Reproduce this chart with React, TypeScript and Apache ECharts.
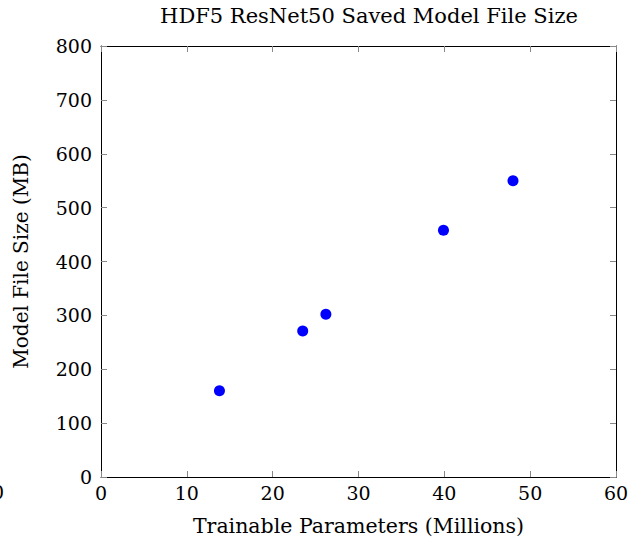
import React, { useEffect, useRef } from "react";
import * as echarts from "echarts";

const titleText = "HDF5 ResNet50 Saved Model File Size";
const xName = "Trainable Parameters (Millions)";
const yName = "Model File Size (MB)";
const paramsMillions = [13.8, 23.5, 26.2, 39.9, 48.0];
const fileSizeMB = [160, 271, 302, 458, 550];
const xMin = 0, xMax = 60, xStep = 10;
const yMin = 0, yMax = 800, yStep = 100;

const FONT = "DejaVu Serif";

export default function App() {
  const ref = useRef<HTMLDivElement>(null);
  useEffect(() => {
    if (!ref.current) return;
    const chart = echarts.init(ref.current, null, { renderer: "svg" });
    const pts = paramsMillions.map((x, i) => [x, fileSizeMB[i]]);
    const tick = { show: true, inside: true, length: 6, lineStyle: { color: "#888", width: 1 } };
    const line = { show: true, onZero: false, lineStyle: { color: "#000", width: 1 } };
    chart.setOption({
      animation: false,
      backgroundColor: "#fff",
      textStyle: { fontFamily: FONT },
      title: {
        text: titleText,
        left: 364,
        top: 0,
        textAlign: "center",
        textStyle: { fontFamily: FONT, fontSize: 21, fontWeight: "normal", color: "#000" },
      },
      grid: { left: 101, right: 24, top: 46, bottom: 69 },
      xAxis: [
        {
          type: "value", min: xMin, max: xMax, interval: xStep,
          name: xName, nameLocation: "middle", nameGap: 38,
          nameTextStyle: { fontFamily: FONT, fontSize: 20.5, color: "#000" },
          axisLine: line, axisTick: tick, splitLine: { show: false },
          axisLabel: { fontFamily: FONT, fontSize: 19, color: "#000", margin: 6 },
        },
        {
          type: "value", position: "top", min: xMin, max: xMax, interval: xStep,
          axisLine: line, axisTick: tick, splitLine: { show: false }, axisLabel: { show: false },
        },
      ],
      yAxis: [
        {
          type: "value", min: yMin, max: yMax, interval: yStep,
          name: yName, nameLocation: "middle", nameGap: 70,
          nameTextStyle: { fontFamily: FONT, fontSize: 20, color: "#000" },
          axisLine: line, axisTick: tick, splitLine: { show: false },
          axisLabel: { fontFamily: FONT, fontSize: 19, color: "#000", margin: 9 },
        },
        {
          type: "value", position: "right", min: yMin, max: yMax, interval: yStep,
          axisLine: line, axisTick: tick, splitLine: { show: false }, axisLabel: { show: false },
        },
      ],
      graphic: [
        {
          type: "text", left: -8, top: 482,
          style: { text: "0", fontFamily: FONT, fontSize: 19, fill: "#000" },
        },
      ],
      series: [
        {
          type: "scatter",
          data: pts,
          symbol: "circle",
          symbolSize: 11,
          itemStyle: { color: "#0000ff", opacity: 1 },
        },
      ],
    });
    return () => chart.dispose();
  }, []);
  return <div ref={ref} style={{ width: 640, height: 546, position: "absolute", left: 0, top: 0 }} />;
}
